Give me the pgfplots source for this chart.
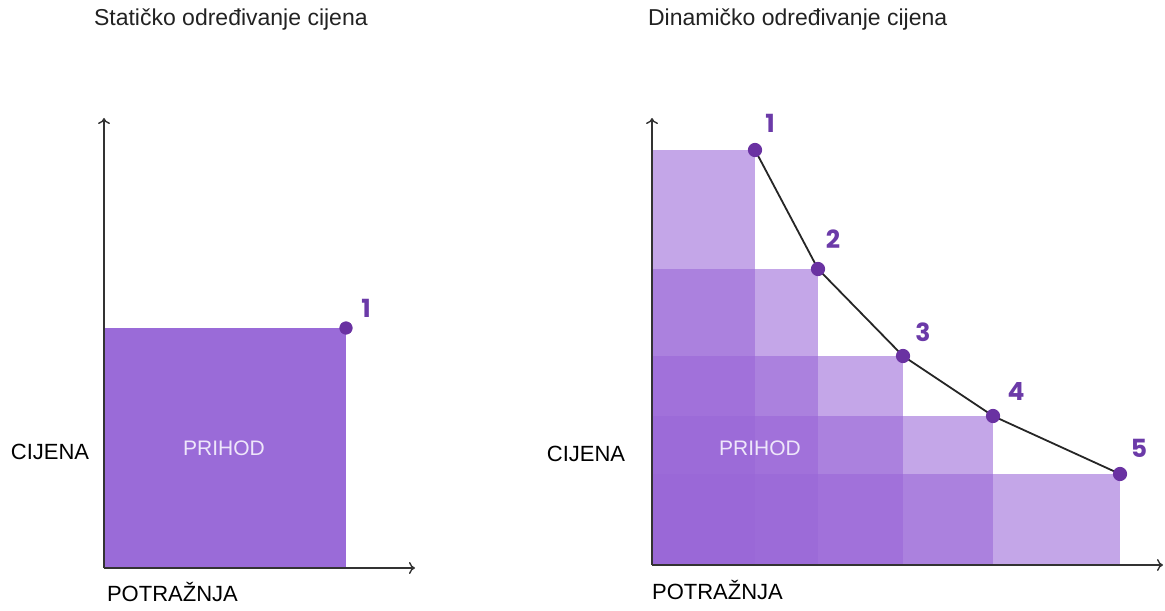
\documentclass[border=0pt]{standalone}
\usepackage{fontspec}
\setmainfont{Liberation Sans}
\newfontfamily\numfont{Poppins}
\usepackage{pgfplots}
\pgfplotsset{compat=1.18}
\usetikzlibrary{arrows.meta}

\definecolor{barfill}{HTML}{9966D7}
\definecolor{staticfill}{HTML}{9A6BD8}
\definecolor{dotcol}{HTML}{6A32A2}
\definecolor{numcol}{HTML}{6B3AA8}
\definecolor{prihodtxt}{HTML}{EEE6FA}
\definecolor{axiscol}{HTML}{333333}
\definecolor{titlecol}{HTML}{222222}

% 1 data unit = 1 px of the reference = 0.5pt
\pgfplotsset{
  sketch/.style={
    x=0.5pt, y=0.5pt,
    xmin=0, ymin=0,
    enlargelimits=false,
    axis lines=left,
    axis line style={axiscol, line width=0.7pt, -{To[length=3pt,width=6pt]}},
    xtick=\empty, ytick=\empty,
    clip=false,
    axis on top,
    anchor=south west,
  },
}
\tikzset{
  lbl/.style={font=\fontsize{11}{13}\selectfont, text=black},
  num/.style={font=\numfont\bfseries\fontsize{12.5}{12}\selectfont, text=numcol},
}

\begin{document}
\begin{tikzpicture}
\useasboundingbox (0,0) rectangle (582.5pt,305pt);

% static pricing
\begin{axis}[sketch, at={(52pt,21pt)}, xmax=311, ymax=450]
\addplot[draw=none, fill=staticfill] coordinates {(0,240) (242,240)} \closedcycle;
\addplot[only marks, mark=*, mark size=3.1pt, dotcol] coordinates {(242,240)};
\node[num] at (axis cs:262,260) {1};
\node[font=\fontsize{10.5}{12}\selectfont, text=prihodtxt] at (axis cs:120,120) {PRIHOD};
\node[lbl] at (axis cs:-54,116) {CIJENA};
\node[lbl, anchor=west] at (axis cs:-4,-24) {POTRAŽNJA};
\node[font=\fontsize{11.5}{13}\selectfont, text=titlecol, anchor=west] at (axis cs:-17,548) {Statičko određivanje cijena};
\end{axis}

% dynamic pricing
\begin{axis}[sketch, at={(326pt,22.5pt)}, xmax=511, ymax=447]
\addplot[draw=none, fill=barfill, fill opacity=0.58] coordinates {(0,415) (103,415)} \closedcycle;
\addplot[draw=none, fill=barfill, fill opacity=0.58] coordinates {(0,296) (166,296)} \closedcycle;
\addplot[draw=none, fill=barfill, fill opacity=0.58] coordinates {(0,209) (251,209)} \closedcycle;
\addplot[draw=none, fill=barfill, fill opacity=0.58] coordinates {(0,149) (341,149)} \closedcycle;
\addplot[draw=none, fill=barfill, fill opacity=0.58] coordinates {(0,91) (468,91)} \closedcycle;
\addplot[black!85, line width=0.9pt, mark=*, mark size=3.1pt,
  mark options={draw=dotcol, fill=dotcol}]
  coordinates {(103,415) (166,296) (251,209) (341,149) (468,91)};
\node[num] at (axis cs:118,442) {1};
\node[num] at (axis cs:181,326) {2};
\node[num] at (axis cs:271,233) {3};
\node[num] at (axis cs:364,173) {4};
\node[num] at (axis cs:487,117) {5};
\node[font=\fontsize{10.5}{12}\selectfont, text=prihodtxt] at (axis cs:108,117) {PRIHOD};
\node[lbl] at (axis cs:-66,111) {CIJENA};
\node[lbl, anchor=west] at (axis cs:-7,-25) {POTRAŽNJA};
\node[font=\fontsize{11.5}{13}\selectfont, text=titlecol, anchor=west] at (axis cs:-11,545) {Dinamičko određivanje cijena};
\end{axis}
\end{tikzpicture}
\end{document}
